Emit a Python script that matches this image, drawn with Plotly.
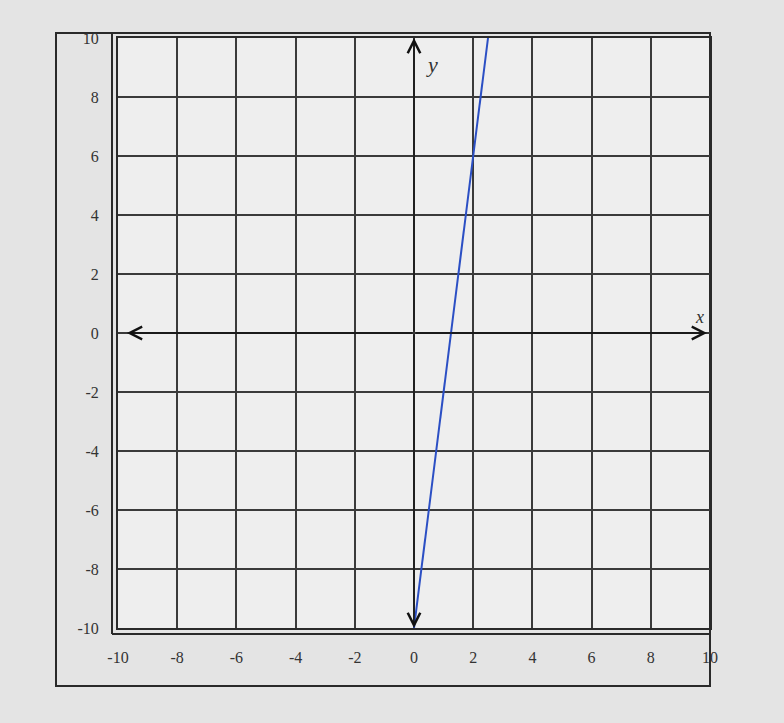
import plotly.graph_objects as go

# Data
line_x = [0, 2.5]
line_y = [-10, 10]
x_ticks = [-10, -8, -6, -4, -2, 0, 2, 4, 6, 8, 10]
y_ticks = [-10, -8, -6, -4, -2, 0, 2, 4, 6, 8, 10]

L, R, T, B = 118, 74, 38, 95
W, H = 784, 723
pw, ph = W - L - R, H - T - B

def px(xpix):
    return (xpix - L) / pw

def py(ypix):
    return (H - B - ypix) / ph

fig = go.Figure()
fig.add_trace(go.Scatter(x=line_x, y=line_y, mode="lines",
                         line=dict(color="#2b4fc4", width=2), showlegend=False,
                         hoverinfo="skip"))

ink = "#2a2a2a"
tfont = dict(family="Liberation Serif", size=16, color="#333")
fig.update_xaxes(range=[-10, 10], tickvals=x_ticks, ticktext=[str(v) for v in x_ticks],
                 showgrid=True, gridcolor="#3a3a3a", gridwidth=1.5, zeroline=False,
                 showline=True, linecolor=ink, linewidth=2, mirror=True,
                 tickfont=tfont, ticks="", ticklabelstandoff=14)
fig.update_yaxes(range=[-10, 10], tickvals=y_ticks, ticktext=[str(v) for v in y_ticks],
                 showgrid=True, gridcolor="#3a3a3a", gridwidth=1.5, zeroline=False,
                 showline=True, linecolor=ink, linewidth=2, mirror=True,
                 tickfont=tfont, ticks="", ticklabelstandoff=14)

shapes = [
    # outer frame
    dict(type="rect", xref="paper", yref="paper", x0=px(56), x1=px(710), y0=py(686), y1=py(33),
         line=dict(color=ink, width=2), layer="below"),
    # inner L line around labels
    dict(type="line", xref="paper", yref="paper", x0=px(112), x1=px(112), y0=py(33), y1=py(634),
         line=dict(color=ink, width=2)),
    dict(type="line", xref="paper", yref="paper", x0=px(112), x1=px(710), y0=py(634), y1=py(634),
         line=dict(color=ink, width=2)),
]

arrow = dict(xref="x", yref="y", axref="x", ayref="y", showarrow=True, arrowhead=5,
             arrowsize=1.9, arrowwidth=1.3, arrowcolor="#111", text="")
annotations = [
    dict(arrow, x=9.9, y=0, ax=0, ay=0),
    dict(arrow, x=-9.7, y=0, ax=0, ay=0),
    dict(arrow, x=0, y=10, ax=0, ay=0),
    dict(arrow, x=0, y=-10, ax=0, ay=0),
    dict(x=0.6, y=9.1, xref="x", yref="y", text="<i>y</i>", showarrow=False,
         font=dict(family="Liberation Serif", size=22, color="#333")),
    dict(x=9.65, y=0.55, xref="x", yref="y", text="<i>x</i>", showarrow=False,
         font=dict(family="Liberation Serif", size=18, color="#333")),
]

fig.update_layout(width=W, height=H, margin=dict(l=L, r=R, t=T, b=B),
                  paper_bgcolor="#e4e4e4", plot_bgcolor="#eeeeee",
                  shapes=shapes, annotations=annotations, showlegend=False)

fig.write_html("out.html", config={"displayModeBar": False},
               post_script="document.body.style.margin='0';document.body.style.background='#e4e4e4';")
